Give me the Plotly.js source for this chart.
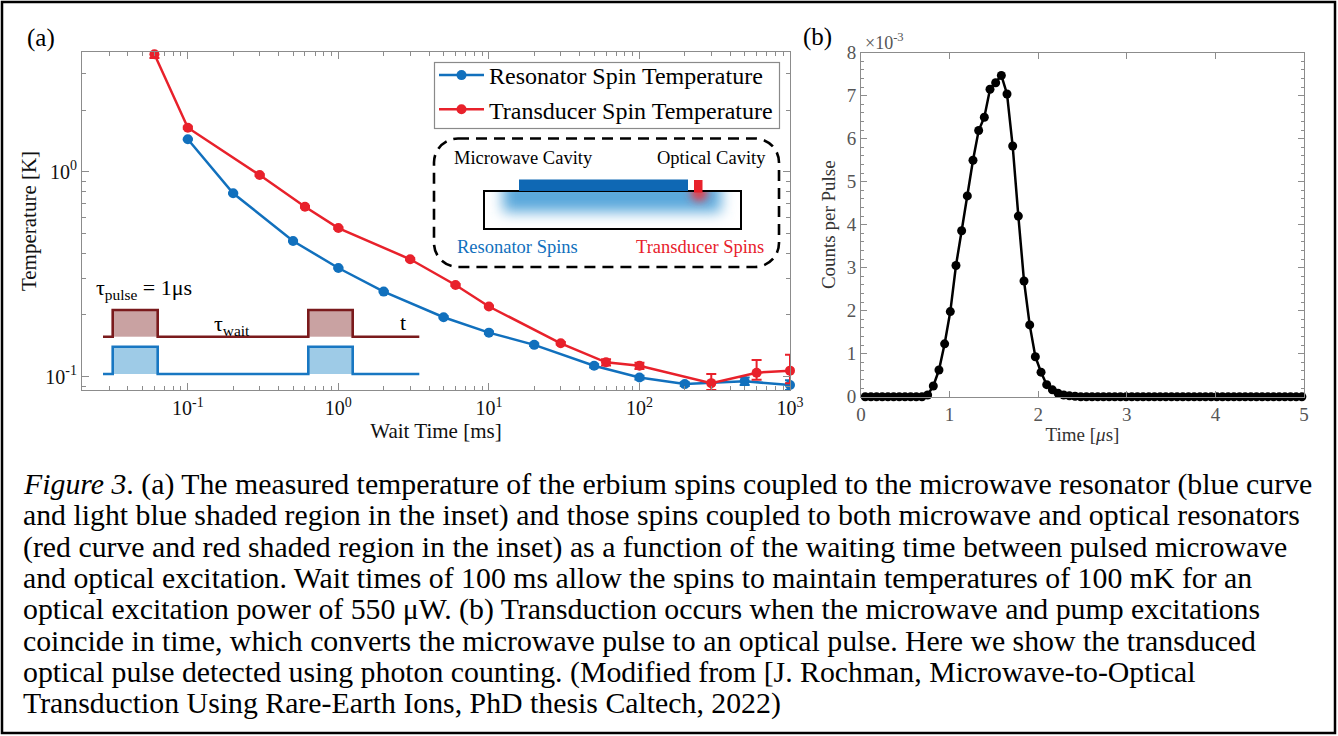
<!DOCTYPE html>
<html><head><meta charset="utf-8">
<script src="https://cdn.plot.ly/plotly-3.0.1.min.js"></script>
<style>html,body{margin:0;padding:0;background:#fff}#chart{width:1338px;height:736px}</style>
</head><body><div id="chart"></div>
<script>
// ---------- Panel (a): spin temperature vs wait time ----------
const waitResonator = [0.1, 0.2, 0.5, 1, 2, 5, 10, 20, 50, 100, 200, 500, 1000];
const tempResonator = [1.44, 0.785, 0.459, 0.339, 0.260, 0.195, 0.164, 0.143, 0.113, 0.099, 0.092, 0.095, 0.091];
const errResonator  = [0.01, 0.005, 0.003, 0.002, 0.002, 0.002, 0.002, 0.002, 0.002, 0.002, 0.002, 0.004, 0.005];

const waitTransducer = [0.06, 0.1, 0.3, 0.6, 1, 3, 6, 10, 30, 60, 100, 300, 600, 1000];
const tempTransducer = [3.74, 1.64, 0.963, 0.675, 0.531, 0.374, 0.28, 0.22, 0.1455, 0.1175, 0.113, 0.093, 0.1046, 0.107];
const errTransducerPlus  = [0.15, 0.02, 0.01, 0.006, 0.005, 0.004, 0.003, 0.002, 0.002, 0.004, 0.004, 0.010, 0.016, 0.021];
const errTransducerMinus = [0.15, 0.02, 0.01, 0.006, 0.005, 0.004, 0.003, 0.002, 0.002, 0.004, 0.004, 0.007, 0.008, 0.014];

const tickValsA = [0.1, 1, 10, 100, 1000];
const tickTextA = ['10<sup>-1</sup>', '10<sup>0</sup>', '10<sup>1</sup>', '10<sup>2</sup>', '10<sup>3</sup>'];
const tickValsTemp = [0.1, 1];
const tickTextTemp = ['10<sup>-1</sup>', '10<sup>0</sup>'];

// ---------- Panel (b): transduced optical pulse ----------
const timeUs = [0.048, 0.112, 0.176, 0.24, 0.304, 0.368, 0.432, 0.496, 0.56, 0.624, 0.688, 0.752,
  0.816, 0.88, 0.944, 1.008, 1.072, 1.136, 1.2, 1.264, 1.328, 1.392, 1.456, 1.52, 1.584, 1.648,
  1.712, 1.776, 1.84, 1.904, 1.968, 2.032, 2.096, 2.16, 2.224, 2.288, 2.352, 2.416, 2.48, 2.544,
  2.608, 2.672, 2.736, 2.8, 2.864, 2.928, 2.992, 3.056, 3.12, 3.184, 3.248, 3.312, 3.376, 3.44,
  3.504, 3.568, 3.632, 3.696, 3.76, 3.824, 3.888, 3.952, 4.016, 4.08, 4.144, 4.208, 4.272, 4.336,
  4.4, 4.464, 4.528, 4.592, 4.656, 4.72, 4.784, 4.848, 4.912, 4.976];
const countsPerPulse = [0, 0, 0, 0, 0, 0, 0, 0, 0, 0, 0, 0.00004,
  0.00025, 0.00062, 0.00123, 0.00198, 0.00305, 0.00386, 0.00467, 0.0055, 0.00619, 0.0065, 0.00715, 0.0073, 0.00747, 0.00704,
  0.00583, 0.0042, 0.00269, 0.00167, 0.00093, 0.00057, 0.00028, 0.00016, 0.00008, 0.00004, 0.00002, 0.00001, 0, 0,
  0, 0, 0, 0, 0, 0, 0, 0, 0, 0, 0, 0, 0, 0,
  0, 0, 0, 0, 0, 0, 0, 0, 0, 0, 0, 0, 0, 0,
  0, 0, 0, 0, 0, 0, 0, 0, 0, 0, 0, 0, 0, 0];
const tickValsCounts = [0, 0.001, 0.002, 0.003, 0.004, 0.005, 0.006, 0.007, 0.008];
const tickTextCounts = ['0', '1', '2', '3', '4', '5', '6', '7', '8'];
const tickValsTime = [0, 1, 2, 3, 4, 5];
const tickTextTime = ['0', '1', '2', '3', '4', '5'];

// ---------- caption ----------
const captionLines = [
  '<i>Figure 3</i>. (a) The measured temperature of the erbium spins coupled to the microwave resonator (blue curve',
  'and light blue shaded region in the inset) and those spins coupled to both microwave and optical resonators',
  '(red curve and red shaded region in the inset) as a function of the waiting time between pulsed microwave',
  'and optical excitation. Wait times of 100 ms allow the spins to maintain temperatures of 100 mK for an',
  'optical excitation power of 550 μW. (b) Transduction occurs when the microwave and pump excitations',
  'coincide in time, which converts the microwave pulse to an optical pulse. Here we show the transduced',
  'optical pulse detected using photon counting. (Modified from [J. Rochman, Microwave-to-Optical',
  'Transduction Using Rare-Earth Ions, PhD thesis Caltech, 2022)'
];

// ---------- layout helpers ----------
const W = 1338, H = 736;
const SERIF = 'Liberation Serif';
const px = v => v / W;
const py = v => 1 - v / H;
function ann(text, x, y, size, color, xanchor, extra) {
  return Object.assign({text: text, x: px(x), y: py(y), xref: 'paper', yref: 'paper', showarrow: false,
    xanchor: xanchor || 'center', yanchor: 'middle', font: {family: SERIF, size: size, color: color || '#000'}}, extra || {});
}
function minorLog(lo, hi) {
  const out = [];
  for (let e = lo; e <= hi; e++) for (let m = 2; m <= 9; m++) out.push(m * Math.pow(10, e));
  return out;
}

const CAP_FONT = 29.8, CAP_LEFT = 21, CAP_TOP = 484, CAP_STEP = 31.3;
const captionAnns = captionLines.map((t, i) => ann(t, CAP_LEFT, CAP_TOP + i * CAP_STEP, CAP_FONT, '#000', 'left'));

// ---------- decorative schematic (inset + pulse sequence + legend box + frame) ----------
const svg = `<svg xmlns='http://www.w3.org/2000/svg' width='1338' height='736' viewBox='0 0 1338 736'>
<defs>
<filter id='b1' x='-30%' y='-100%' width='160%' height='300%'><feGaussianBlur stdDeviation='7'/></filter>
<filter id='b2' x='-200%' y='-200%' width='500%' height='500%'><feGaussianBlur stdDeviation='4'/></filter>
<clipPath id='c'><rect x='484' y='191' width='257' height='38'/></clipPath>
</defs>
<rect x='2' y='2' width='1333' height='731' fill='none' stroke='#000' stroke-width='2.5'/>
<rect x='434.5' y='62.5' width='345' height='66' fill='#fff' stroke='#8a8a8a' stroke-width='1.2'/>
<rect x='434' y='138.5' width='345' height='128.5' rx='24' fill='none' stroke='#000' stroke-width='2.6' stroke-dasharray='11 7'/>
<g clip-path='url(#c)'>
<rect x='503' y='180' width='218' height='32' fill='#5aa8db' filter='url(#b1)'/>
<circle cx='699' cy='193' r='8' fill='#ec3a44' filter='url(#b2)'/>
</g>
<rect x='484' y='191' width='257' height='38' fill='none' stroke='#000' stroke-width='2'/>
<rect x='519' y='179.5' width='169' height='11.5' fill='#0f68b4'/>
<rect x='694' y='180' width='8.5' height='12.5' fill='#e8212b'/>
<rect x='112.7' y='310' width='45' height='26.7' fill='#c9a2a2'/>
<rect x='308.3' y='310' width='44.4' height='26.7' fill='#c9a2a2'/>
<path d='M103 336.7 H112.7 V310 H157.7 V336.7 H308.3 V310 H352.7 V336.7 H419.3' fill='none' stroke='#7a1a1c' stroke-width='2.6'/>
<rect x='112.7' y='346.7' width='45' height='27.3' fill='#9ecbe7'/>
<rect x='308.3' y='346.7' width='44.4' height='27.3' fill='#9ecbe7'/>
<path d='M103 374 H112.7 V346.7 H157.7 V374 H308.3 V346.7 H352.7 V374 H419.3' fill='none' stroke='#1877c2' stroke-width='2.6'/>
</svg>`;
const svgUri = 'data:image/svg+xml;charset=utf-8,' + encodeURIComponent(svg);

const BLUE = '#1170bd', RED = '#e8212b';

const traces = [
  {x: waitResonator, y: tempResonator, xaxis: 'x', yaxis: 'y', type: 'scatter', mode: 'lines+markers',
   name: 'Resonator Spin Temperature', line: {color: BLUE, width: 2.5}, marker: {color: BLUE, size: 10, symbol: 'circle'},
   error_y: {type: 'data', array: errResonator, color: BLUE, thickness: 2, width: 5}, cliponaxis: false},
  {x: waitTransducer, y: tempTransducer, xaxis: 'x', yaxis: 'y', type: 'scatter', mode: 'lines+markers',
   name: 'Transducer Spin Temperature', line: {color: RED, width: 2.5}, marker: {color: RED, size: 10, symbol: 'circle'},
   error_y: {type: 'data', array: errTransducerPlus, arrayminus: errTransducerMinus, color: RED, thickness: 2, width: 5}, cliponaxis: false},
  {x: timeUs, y: countsPerPulse, xaxis: 'x2', yaxis: 'y2', type: 'scatter', mode: 'lines+markers',
   name: 'Counts per Pulse', showlegend: false, line: {color: '#000', width: 2.5}, marker: {color: '#000', size: 9}, cliponaxis: false}
];

const AX_GRAY = '#8c8c8c';
const layout = {
  width: W, height: H, margin: {l: 0, r: 0, t: 0, b: 0},
  paper_bgcolor: '#fff', plot_bgcolor: 'rgba(0,0,0,0)',
  font: {family: SERIF, size: 18, color: '#000'},
  showlegend: true,
  legend: {x: px(434), y: py(53), xanchor: 'left', yanchor: 'top', bgcolor: 'rgba(0,0,0,0)', borderwidth: 0,
    itemwidth: 45, font: {family: SERIF, size: 24, color: '#000'}, tracegroupgap: 0},
  xaxis: {type: 'log', domain: [px(82), px(790)], range: [-1.703, 3.0], anchor: 'y',
    showline: true, linecolor: AX_GRAY, linewidth: 1, mirror: 'ticks', ticks: 'inside', ticklen: 7, tickcolor: AX_GRAY,
    tickmode: 'array', tickvals: tickValsA, ticktext: tickTextA, tickfont: {family: SERIF, size: 20, color: '#111'},
    minor: {tickmode: 'array', tickvals: minorLog(-2, 2), ticks: 'inside', ticklen: 4, tickcolor: AX_GRAY, showgrid: false},
    showgrid: false, zeroline: false,
    title: {text: 'Wait Time [ms]', font: {family: SERIF, size: 21, color: '#111'}, standoff: 4}},
  yaxis: {type: 'log', domain: [py(390), py(52)], range: [-1.065, 0.584], anchor: 'x',
    showline: true, linecolor: AX_GRAY, linewidth: 1, mirror: 'ticks', ticks: 'inside', ticklen: 7, tickcolor: AX_GRAY,
    tickmode: 'array', tickvals: tickValsTemp, ticktext: tickTextTemp, tickfont: {family: SERIF, size: 20, color: '#111'},
    minor: {tickmode: 'array', tickvals: minorLog(-2, 0), ticks: 'inside', ticklen: 4, tickcolor: AX_GRAY, showgrid: false},
    showgrid: false, zeroline: false,
    title: {text: 'Temperature [K]', font: {family: SERIF, size: 21, color: '#111'}, standoff: 2}},
  xaxis2: {domain: [px(861), px(1304)], range: [0, 5], anchor: 'y2',
    showline: true, linecolor: AX_GRAY, linewidth: 1, mirror: 'ticks', ticks: 'inside', ticklen: 6, tickcolor: AX_GRAY,
    tickmode: 'array', tickvals: tickValsTime, ticktext: tickTextTime, tickfont: {family: SERIF, size: 19, color: '#555'},
    showgrid: false, zeroline: false,
    title: {text: 'Time [<i>μ</i>s]', font: {family: SERIF, size: 19, color: '#333'}, standoff: 4}},
  yaxis2: {domain: [py(396.7), py(52.7)], range: [0, 0.008], anchor: 'x2',
    showline: true, linecolor: AX_GRAY, linewidth: 1, mirror: 'ticks', ticks: 'inside', ticklen: 6, tickcolor: AX_GRAY,
    tickmode: 'array', tickvals: tickValsCounts, ticktext: tickTextCounts, tickfont: {family: SERIF, size: 19, color: '#555'},
    minor: {dtick: 0.0002, ticks: 'inside', ticklen: 3, tickcolor: AX_GRAY, showgrid: false},
    showgrid: false, zeroline: false,
    title: {text: 'Counts per Pulse', font: {family: SERIF, size: 19, color: '#333'}, standoff: 6}},
  images: [{source: svgUri, xref: 'paper', yref: 'paper', x: 0, y: 1, sizex: 1, sizey: 1,
    xanchor: 'left', yanchor: 'top', sizing: 'stretch', layer: 'below'}],
  annotations: [
    ann('(a)', 41, 38, 25),
    ann('(b)', 818, 37, 25),
    ann('×10<sup>-3</sup>', 863, 42, 18, '#555', 'left'),
    ann('Microwave Cavity', 452, 158, 18.5, '#000', 'left'),
    ann('Optical Cavity', 768, 158, 18.5, '#000', 'right'),
    ann('Resonator Spins', 455, 247, 18.5, '#1170bd', 'left'),
    ann('Transducer Spins', 766, 247, 18.5, '#e8212b', 'right'),
    ann('τ<sub>pulse</sub> = 1μs', 94, 289, 22, '#000', 'left'),
    ann('τ<sub>wait</sub>', 212, 325, 22, '#000', 'left'),
    ann('t', 403, 322, 22, '#000', 'center')
  ].concat(captionAnns)
};

Plotly.newPlot('chart', traces, layout, {staticPlot: true, displayModeBar: false});
</script>
</body></html>
